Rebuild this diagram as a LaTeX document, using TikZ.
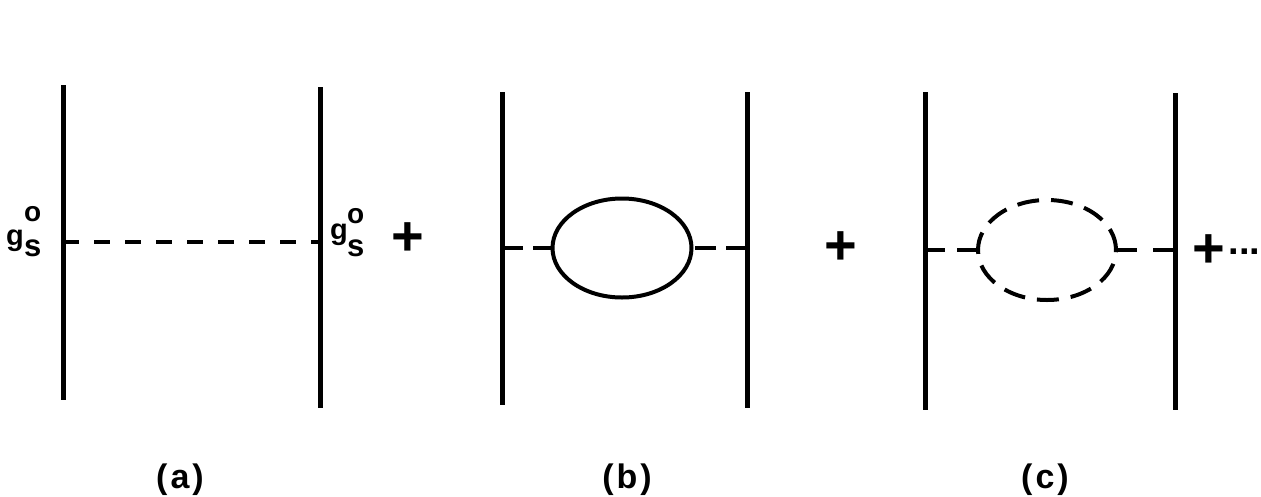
\documentclass[tikz,border=0pt]{standalone}
\usepackage{fontspec}
\setmainfont{Liberation Sans}
\usetikzlibrary{shapes.geometric}
\begin{document}
\begin{tikzpicture}[x=1pt,y=-1pt,
  wall/.style={line width=5pt},
  prop/.style={line width=4pt, dash pattern=#1},
  fermloop/.style={ellipse, draw, line width=4pt, inner sep=0pt, outer sep=0pt, minimum width=139pt, minimum height=99pt},
  bosloop/.style={ellipse, draw, line width=4pt, inner sep=0pt, outer sep=0pt, minimum width=138pt, minimum height=100pt, dash pattern=on 22pt off 12pt},
  lbl/.style={inner sep=0pt, font=\bfseries\fontsize{34}{38}\selectfont},
  plussign/.style={inner sep=0pt, font=\bfseries\fontsize{56}{60}\selectfont},
  dotsfont/.style={inner sep=0pt, anchor=base west, font=\bfseries\fontsize{38}{42}\selectfont},
  gfont/.style={inner sep=0pt, anchor=base west, font=\bfseries\fontsize{29}{32}\selectfont},
  sfont/.style={inner sep=0pt, anchor=base west, font=\bfseries\fontsize{31}{34}\selectfont},
  ofont/.style={inner sep=0pt, anchor=base west, font=\bfseries\fontsize{28}{30}\selectfont}
]
\fill[white] (0,0) rectangle (1261,496);
\useasboundingbox (0,0) rectangle (1261,496);

% (a)
\coordinate (a1t) at (63,85);
\coordinate (a1b) at (63,400);
\coordinate (a2t) at (320,87);
\coordinate (a2b) at (320,408);
\coordinate (a1m) at (63,242);
\coordinate (a2m) at (320,242);
\draw[wall] (a1t) -- (a1b);
\draw[wall] (a2t) -- (a2b);
\draw[prop={on 16pt off 15pt}] (a1m) -- (a2m);
\node[gfont] (gL) at (6,245) {g};
\node[sfont] (sL) at (24,256) {s};
\node[ofont] (oL) at (24,221) {o};
\node[gfont] (gR) at (330,239) {g};
\node[sfont] (sR) at (347,256) {s};
\node[ofont] (oR) at (347,223) {o};
\node[plussign] (p1) at (408,239) {+};
\node[lbl] (la) at (180,480) {(\hspace{3pt}a\hspace{3pt})};

% (b)
\coordinate (b1t) at (502,92);
\coordinate (b1b) at (502,405);
\coordinate (b2t) at (747,92);
\coordinate (b2b) at (747,408);
\coordinate (b1m) at (502,248);
\coordinate (b2m) at (747,248);
\draw[wall] (b1t) -- (b1b);
\draw[wall] (b2t) -- (b2b);
\node[fermloop] (bl) at (622,248) {};
\draw[prop={on 21pt off 10pt}] (b1m) -- (bl.west);
\draw[prop={on 21pt off 10pt}] (b2m) -- (bl.east);
\node[plussign] (p2) at (841,248) {+};
\node[lbl] (lb) at (627,480) {(\hspace{3pt}b\hspace{3pt})};

% (c)
\coordinate (c1t) at (925,92);
\coordinate (c1b) at (925,410);
\coordinate (c2t) at (1175,93);
\coordinate (c2b) at (1175,410);
\coordinate (c1m) at (925,250);
\coordinate (c2m) at (1175,250);
\draw[wall] (c1t) -- (c1b);
\draw[wall] (c2t) -- (c2b);
\node[bosloop] (cl) at (1047,250) {};
\draw[prop={on 20pt off 12pt}] (c1m) -- (cl.west);
\draw[prop={on 21pt off 16pt}] (cl.east) -- (c2m);
\node[plussign] (p3) at (1209,251) {+};
\node[dotsfont] (dots) at (1228.5,254) {...};
\node[lbl] (lc) at (1045,480) {(\hspace{3pt}c\hspace{3pt})};
\end{tikzpicture}
\end{document}
